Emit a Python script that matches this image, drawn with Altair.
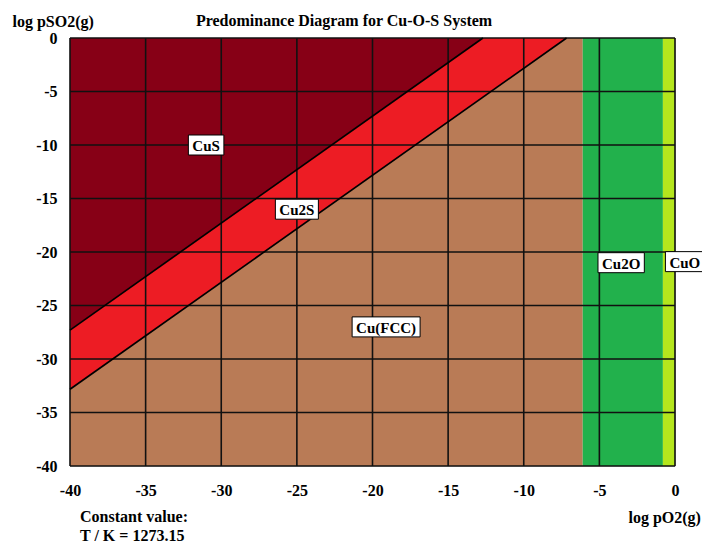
import altair as alt
import pandas as pd

# ---- data ----
x_ticks = [-40, -35, -30, -25, -20, -15, -10, -5, 0]
y_ticks = [-40, -35, -30, -25, -20, -15, -10, -5, 0]

# boundary lines (log pO2, log pSO2)
cus_cu2s_x = [-40.0, -12.7]
cus_cu2s_y = [-27.3, 0.0]
cu2s_cu_x = [-40.0, -7.17]
cu2s_cu_y = [-32.83, 0.0]
cu_cu2o_x = -6.1
cu2o_cuo_x = -0.8

phase_names = ["CuS", "Cu2S", "Cu(FCC)", "Cu2O", "CuO"]
label_x = [-31.0, -25.0, -19.1, -3.56, 0.65]
label_y = [-10.0, -16.0, -27.0, -21.0, -20.9]

colors = {
    "CuS": "#870016",
    "Cu2S": "#ED1C24",
    "Cu(FCC)": "#B97B56",
    "Cu2O": "#22B14C",
    "CuO": "#B5E61D",
}

FONT = "Liberation Serif"
FS = 16
XMIN, XMAX, YMIN, YMAX = -40, 0, -40, 0


def line_y(xs, ys, x):
    return ys[0] + (ys[1] - ys[0]) * (x - xs[0]) / (xs[1] - xs[0])


xs = alt.Scale(domain=[XMIN, XMAX], nice=False, zero=False)
ys = alt.Scale(domain=[YMIN, YMAX], nice=False, zero=False)

x_axis = alt.Axis(values=x_ticks, grid=False, ticks=False, domain=False,
                  labelFont=FONT, labelFontWeight="bold", labelFontSize=FS,
                  labelColor="black", labelPadding=16, labelFlush=False,
                  labelExpr="toString(datum.value)",
                  title="log pO2(g)", titleFont=FONT, titleFontSize=FS,
                  titleFontWeight="bold", titleColor="black",
                  titleX=558, titleY=51, titleAlign="left",
                  titleBaseline="middle", titleAngle=0)
y_axis = alt.Axis(values=y_ticks, grid=False, ticks=False, domain=False,
                  labelFont=FONT, labelFontWeight="bold", labelFontSize=FS,
                  labelColor="black", labelPadding=13, labelFlush=False,
                  labelExpr="toString(datum.value)",
                  title="log pSO2(g)", titleFont=FONT, titleFontSize=FS,
                  titleFontWeight="bold", titleColor="black",
                  titleX=-58, titleY=-17, titleAlign="left",
                  titleBaseline="middle", titleAngle=0)


def X(field):
    return alt.X(field, scale=xs, axis=x_axis)


def Y(field):
    return alt.Y(field, scale=ys, axis=y_axis)


layers = []
# Cu(FCC) region below the lower line, up to Cu2O boundary
cu_df = pd.DataFrame({"x": [XMIN, cu2s_cu_x[1], cu_cu2o_x],
                      "y": [YMIN, YMIN, YMIN],
                      "y2": [cu2s_cu_y[0], YMAX, YMAX]})
layers.append(alt.Chart(cu_df).mark_area(color=colors["Cu(FCC)"], opacity=1)
              .encode(x=X("x:Q"), y=Y("y:Q"), y2="y2:Q"))
# Cu2S band
kx = cus_cu2s_x[1]
cu2s_df = pd.DataFrame({"x": [XMIN, kx, cu2s_cu_x[1]],
                        "y": [cu2s_cu_y[0], line_y(cu2s_cu_x, cu2s_cu_y, kx), YMAX],
                        "y2": [cus_cu2s_y[0], YMAX, YMAX]})
layers.append(alt.Chart(cu2s_df).mark_area(color=colors["Cu2S"], opacity=1)
              .encode(x=X("x:Q"), y=Y("y:Q"), y2="y2:Q"))
# CuS
cus_df = pd.DataFrame({"x": cus_cu2s_x, "y": cus_cu2s_y, "y2": [YMAX, YMAX]})
layers.append(alt.Chart(cus_df).mark_area(color=colors["CuS"], opacity=1)
              .encode(x=X("x:Q"), y=Y("y:Q"), y2="y2:Q"))
# oxide strips
ox_df = pd.DataFrame({"name": ["Cu2O", "CuO"],
                      "x": [cu_cu2o_x, cu2o_cuo_x], "x2": [cu2o_cuo_x, XMAX],
                      "y": [YMIN, YMIN], "y2": [YMAX, YMAX]})
layers.append(alt.Chart(ox_df).mark_rect(opacity=1, strokeWidth=0).encode(
    x=X("x:Q"), x2="x2:Q", y=Y("y:Q"), y2="y2:Q",
    color=alt.Color("name:N", legend=None,
                    scale=alt.Scale(domain=["Cu2O", "CuO"],
                                    range=[colors["Cu2O"], colors["CuO"]]))))

# grid lines on top of regions
gx = alt.Chart(pd.DataFrame({"v": x_ticks})).mark_rule(
    color="#111111", strokeWidth=1.6).encode(x=X("v:Q"))
gy = alt.Chart(pd.DataFrame({"v": y_ticks})).mark_rule(
    color="#111111", strokeWidth=1.6).encode(y=Y("v:Q"))
layers += [gx, gy]

# boundary lines
for bx, by in [(cus_cu2s_x, cus_cu2s_y), (cu2s_cu_x, cu2s_cu_y)]:
    layers.append(alt.Chart(pd.DataFrame({"x": bx, "y": by})).mark_line(
        color="black", strokeWidth=1.7).encode(x=X("x:Q"), y=Y("y:Q")))

# Liberation Serif Bold advance widths (em) for label characters
ADV = {"C": 0.722, "u": 0.556, "S": 0.556, "2": 0.5, "O": 0.778,
       "(": 0.333, ")": 0.333, "F": 0.611}
LFS = 15


def box_path(label):
    w = sum(ADV.get(c, 0.6) for c in label) * LFS + 8
    hw, hh = w / 2, 10
    return f"M{-hw},{-hh}H{hw}V{hh}H{-hw}Z"


lab = pd.DataFrame({"name": phase_names, "x": label_x, "y": label_y})
lab["shape"] = [box_path(n) for n in phase_names]

boxes = alt.Chart(lab).mark_point(filled=True, fill="white", stroke="black",
                                  strokeWidth=1, opacity=1, fillOpacity=1,
                                  size=4).encode(
    x=X("x:Q"), y=Y("y:Q"), shape=alt.Shape("shape:N", scale=None))
texts = alt.Chart(lab).mark_text(font=FONT, fontWeight="bold", fontSize=LFS,
                                 color="black", baseline="middle",
                                 dy=1).encode(
    x=X("x:Q"), y=Y("y:Q"), text="name:N")
layers += [boxes, texts]

title = alt.Chart(pd.DataFrame({"t": ["Predominance Diagram for Cu-O-S System"]})
                  ).mark_text(font=FONT, fontWeight="bold", fontSize=FS,
                              color="black", align="center",
                              baseline="middle").encode(
    x=alt.value(274), y=alt.value(-17), text="t:N")
note1 = alt.Chart(pd.DataFrame({"t": ["Constant value:"]})).mark_text(
    font=FONT, fontWeight="bold", fontSize=FS, color="black", align="left",
    baseline="middle").encode(x=alt.value(10), y=alt.value(479), text="t:N")
note2 = alt.Chart(pd.DataFrame({"t": ["T / K = 1273.15"]})).mark_text(
    font=FONT, fontWeight="bold", fontSize=FS, color="black", align="left",
    baseline="middle").encode(x=alt.value(10), y=alt.value(498), text="t:N")
layers += [title, note1, note2]

chart = alt.layer(*layers).properties(
    width=605, height=428,
    autosize=alt.AutoSizeParams(type="none"),
    padding={"left": 62, "top": 30, "right": 27, "bottom": 78},
).configure_view(stroke="#222222", strokeWidth=1.2).configure(
    background="white")

chart.save("out.html", embed_options={"renderer": "svg", "actions": False})
